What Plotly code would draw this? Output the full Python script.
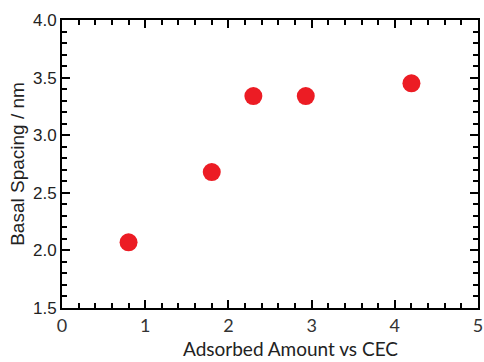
import plotly.graph_objects as go

adsorbed = [0.8, 1.8, 2.3, 2.93, 4.2]
spacing = [2.07, 2.68, 3.34, 3.34, 3.45]

fig = go.Figure()
fig.add_trace(go.Scatter(
    x=adsorbed, y=spacing, mode="markers",
    marker=dict(color="#ec1c24", size=18, line=dict(width=0)),
    showlegend=False,
))
# invisible trace to anchor the mirrored top/right axes (for minor ticks)
fig.add_trace(go.Scatter(
    x=adsorbed, y=spacing, mode="markers", xaxis="x2", yaxis="y2",
    marker=dict(opacity=0), showlegend=False, hoverinfo="skip",
))

tick_style = dict(ticks="inside", ticklen=8, tickwidth=2, tickcolor="black")
minor_x = dict(ticks="inside", ticklen=5, tickwidth=2, tickcolor="black", dtick=0.2, showgrid=False)
minor_y = dict(ticks="inside", ticklen=5, tickwidth=2, tickcolor="black", dtick=0.1, showgrid=False)

fig.update_layout(
    width=484, height=362,
    margin=dict(l=62, r=6, t=20, b=54),
    paper_bgcolor="white", plot_bgcolor="white",
    xaxis=dict(
        range=[0, 5], dtick=1, tick0=0, minor=minor_x, **tick_style,
        showline=True, linewidth=2, linecolor="black",
        showgrid=False, zeroline=False, automargin=False,
        tickfont=dict(family="Lato", size=18, color="#333"),
    ),
    yaxis=dict(
        range=[1.5, 4.0], dtick=0.5, tick0=1.5, tickformat=".1f", minor=minor_y, **tick_style,
        showline=True, linewidth=2, linecolor="black",
        showgrid=False, zeroline=False, automargin=False,
        tickfont=dict(family="Liberation Sans", size=17, color="#222"),
        title=dict(text="Basal Spacing / nm",
                   font=dict(family="Liberation Sans", size=19, color="#222"), standoff=3),
    ),
    xaxis2=dict(
        range=[0, 5], dtick=1, tick0=0, minor=minor_x, **tick_style,
        overlaying="x", side="top", anchor="y2", showticklabels=False,
        showline=True, linewidth=2, linecolor="black",
        showgrid=False, zeroline=False, automargin=False,
    ),
    yaxis2=dict(
        range=[1.5, 4.0], dtick=0.5, tick0=1.5, minor=minor_y, **tick_style,
        overlaying="y", side="right", anchor="x2", showticklabels=False,
        showline=True, linewidth=2, linecolor="black",
        showgrid=False, zeroline=False, automargin=False,
    ),
    annotations=[dict(
        text="Adsorbed Amount vs CEC", xref="paper", yref="paper",
        x=0.549, y=-0.142, xanchor="center", yanchor="middle", showarrow=False,
        font=dict(family="Lato", size=19, color="#222"),
    )],
)

fig.write_html("out.html", config={"displayModeBar": False},
               post_script="document.body.style.margin='0';")
